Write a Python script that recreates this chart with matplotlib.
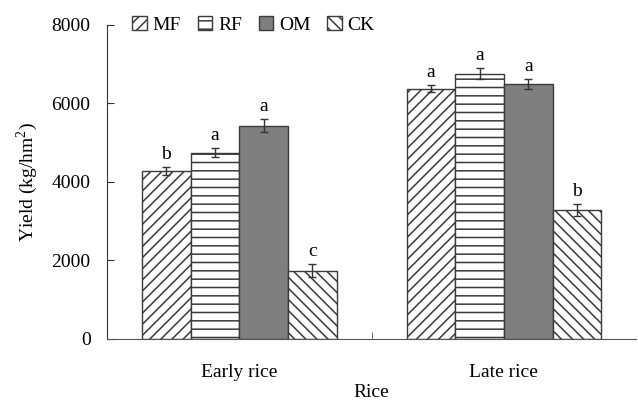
import numpy as np
import matplotlib
matplotlib.use("Agg")
import matplotlib.pyplot as plt

plt.rcParams['font.family'] = ['Liberation Serif', 'DejaVu Serif']
plt.rcParams['hatch.linewidth'] = 1.1
plt.rcParams['mathtext.fontset'] = 'custom'
plt.rcParams['mathtext.rm'] = 'Liberation Serif'

seasons = ["Early rice", "Late rice"]
treatments = ["MF", "RF", "OM", "CK"]
yieldMean = {
	"MF": [4280, 6370],
	"RF": [4740, 6760],
	"OM": [5430, 6490],
	"CK": [1740, 3280],
}
yieldErr = {
	"MF": [100, 90],
	"RF": [110, 145],
	"OM": [160, 120],
	"CK": [170, 150],
}
letters = {
	"MF": ["b", "a"],
	"RF": ["a", "a"],
	"OM": ["a", "a"],
	"CK": ["c", "b"],
}

hatches = {"MF": "///", "RF": "--", "OM": "", "CK": "\\\\\\"}
fills = {"MF": "white", "RF": "white", "OM": "#7f7f7f", "CK": "white"}
fs = 14

fig = plt.figure(figsize=(6.38, 4.01), dpi=100)
ax = fig.add_axes([0.168, 0.155, 0.829, 0.783])

x = np.arange(len(seasons))
width = 0.184
for k, t in enumerate(treatments):
	pos = x + (k - 1.5) * width
	ax.bar(pos, yieldMean[t], width, color=fills[t], edgecolor="#3a3a3a",
		hatch=hatches[t], linewidth=1.0, label=t)
	ax.errorbar(pos, yieldMean[t], yerr=yieldErr[t], fmt="none", ecolor="#333333",
		elinewidth=1.0, capsize=3, capthick=1.0)
	for p, m, e, l in zip(pos, yieldMean[t], yieldErr[t], letters[t]):
		ax.annotate(l, (p, m + e), xytext=(0, 3), textcoords="offset points",
			ha="center", va="bottom", fontsize=fs)

ax.set_xlim(-0.5, 1.5)
ax.set_ylim(0, 8000)
ax.set_yticks([0, 2000, 4000, 6000, 8000])
ax.tick_params(axis="y", direction="in", length=5, pad=12, labelsize=fs, color="#333333")
ax.set_xticks(x, seasons)
ax.tick_params(axis="x", length=0, pad=18, labelsize=fs)
ax.set_xticks([0.5], minor=True)
ax.tick_params(axis="x", which="minor", direction="in", length=5, color="#555555")

ax.spines["top"].set_visible(False)
ax.spines["right"].set_visible(False)
ax.spines["left"].set_color("#333333")
ax.spines["bottom"].set_color("#555555")

ax.set_ylabel("Yield (kg/hm$^2$)", fontsize=fs, labelpad=8)
ax.set_xlabel("Rice", fontsize=fs, labelpad=2)

ax.legend(ncol=4, frameon=False, loc="center left", bbox_to_anchor=(0.033, 1.0),
	fontsize=fs, handlelength=0.75, handleheight=0.75, handletextpad=0.3,
	columnspacing=0.85, borderaxespad=0)

fig.savefig("out.png", dpi=100)
